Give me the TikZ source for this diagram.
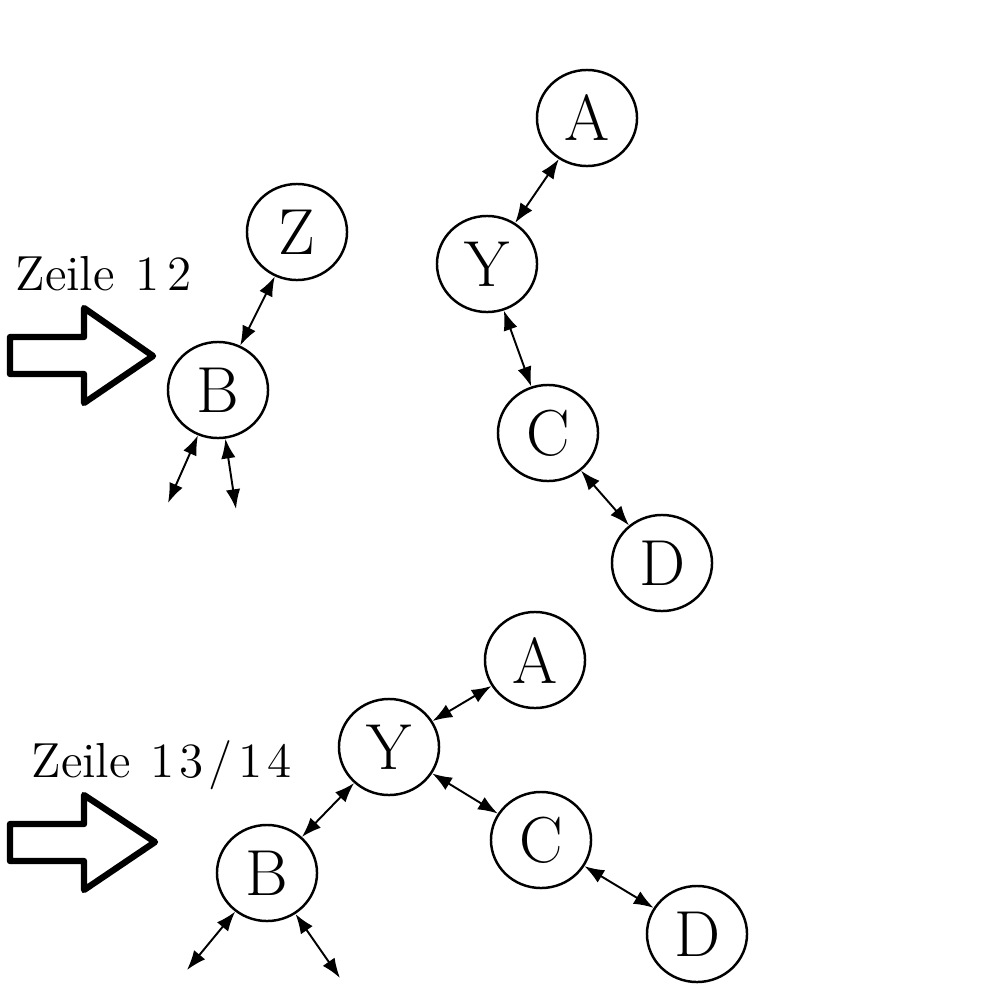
\documentclass[tikz,border=0pt]{standalone}
\usetikzlibrary{shapes.geometric,arrows.meta}
\begin{document}
\begin{tikzpicture}[x=0.01cm,y=-0.01cm,
  knot/.style={draw,ellipse,line width=0.7pt,minimum width=1cm,minimum height=0.96cm,inner sep=0pt,font=\fontsize{18.5}{20}\selectfont},
  link/.style={line width=0.55pt,{Latex[length=5.6pt,width=4.1pt]}-{Latex[length=5.6pt,width=4.1pt]}},
  bigarrow/.style={draw,line width=1.8pt,line join=round},
  lbl/.style={inner sep=0pt,anchor=base west,font=\fontsize{14}{15}\selectfont}]
\useasboundingbox (0,0) rectangle (1000,1000);
% top
\node[knot] (A1) at (587,118) {A};
\node[knot] (Y1) at (487,264) {Y};
\node[knot] (C1) at (548,433) {C};
\node[knot] (D1) at (662,563) {D};
\node[knot] (Z1) at (297,232) {Z};
\node[knot] (B1) at (218,390) {B};
\coordinate (b1l) at (168,503);
\coordinate (b1r) at (236,509);
\draw[link] (A1) -- (Y1);
\draw[link] (Y1) -- (C1);
\draw[link] (C1) -- (D1);
\draw[link] (Z1) -- (B1);
\draw[link] (B1) -- (b1l);
\draw[link] (B1) -- (b1r);
\node[lbl] (L1) at (15,290) {Zeile\hspace{6pt}1\hspace{2.2pt}2};
\draw[bigarrow] (10,337) -- (84,337) -- (84,308) -- (153,356) -- (84,403) -- (84,374) -- (10,374) -- cycle;
% bottom
\node[knot] (A2) at (535,660) {A};
\node[knot] (Y2) at (389,747) {Y};
\node[knot] (B2) at (267,873) {B};
\node[knot] (C2) at (541,840) {C};
\node[knot] (D2) at (697,934) {D};
\coordinate (b2l) at (187,970);
\coordinate (b2r) at (340,978);
\draw[link] (Y2) -- (A2);
\draw[link] (Y2) -- (B2);
\draw[link] (Y2) -- (C2);
\draw[link] (C2) -- (D2);
\draw[link] (B2) -- (b2l);
\draw[link] (B2) -- (b2r);
\node[lbl] (L2) at (31,777) {Zeile\hspace{5.5pt}1\hspace{1.5pt}3\hspace{1.5pt}/\hspace{1.5pt}1\hspace{1.5pt}4};
\draw[bigarrow] (10,824) -- (84,824) -- (84,795) -- (155,842) -- (84,890) -- (84,861) -- (10,861) -- cycle;
\end{tikzpicture}
\end{document}
